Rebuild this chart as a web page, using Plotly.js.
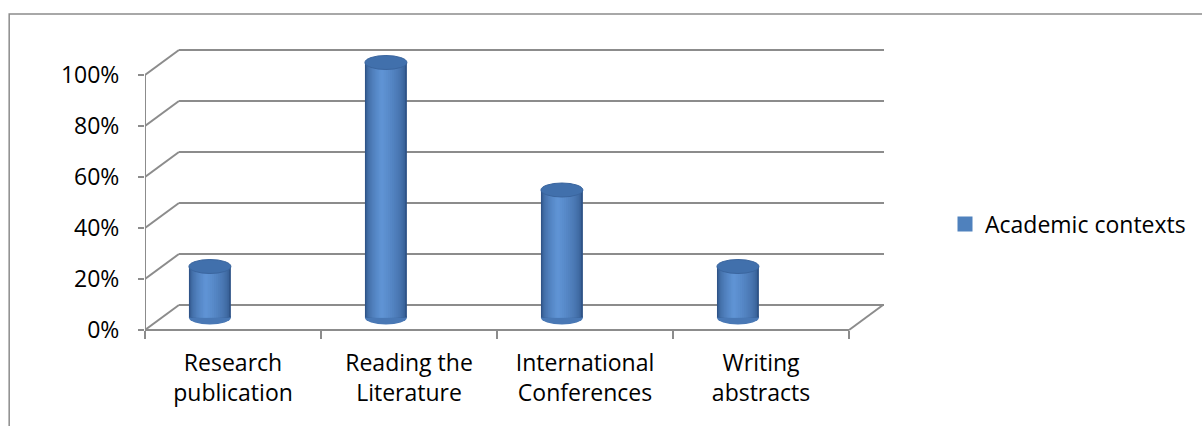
<!DOCTYPE html>
<html>
<head>
<meta charset="utf-8">
<script src="https://cdn.plot.ly/plotly-3.0.1.min.js"></script>
<style>
  html, body { margin: 0; padding: 0; background: #fff; }
  #chart { width: 1202px; height: 426px; }
</style>
</head>
<body>
<div id="chart"></div>
<script>
// ---- data ----
const categories = ["Research<br>publication", "Reading the<br>Literature", "International<br>Conferences", "Writing<br>abstracts"];
const seriesName = "Academic contexts";
const values = [0.20, 1.00, 0.50, 0.20];
const yTicks = [0, 0.2, 0.4, 0.6, 0.8, 1.0];

// ---- geometry (pixel layout of the 3D frame) ----
const PX_PER_CAT = 176.25;
const PX_PER_UNIT = 255;
const FL = (145 - 210) / PX_PER_CAT;          // front-left x (bar axis units)
const XR = FL + 740 / PX_PER_CAT;             // right edge of plot area
const BDX = 34 / PX_PER_CAT;                  // depth offset x
const BDY = 25 / PX_PER_UNIT;                 // depth offset y
const FR = FL + categories.length;            // front-right x
const EH = 7 / PX_PER_UNIT;                   // ellipse half height
const CYL_W = 42 / PX_PER_CAT;                // cylinder width

const xIdx = values.map((_, i) => i);

// cylinder shading layers (same data, nested widths / shades)
function mix(a, b, t) {
  const pa = [1, 3, 5].map(k => parseInt(a.substr(k, 2), 16));
  const pb = [1, 3, 5].map(k => parseInt(b.substr(k, 2), 16));
  return 'rgb(' + pa.map((v, i) => Math.round(v + (pb[i] - v) * t)).join(',') + ')';
}
const N = 12;
const DARK = '#2f5488', LIGHT = '#5f93d4';
const peak = -0.1 * CYL_W;                    // brightest line, left of centre
const traces = [];
for (let k = 0; k < N; k++) {
  const f = 1 - k / N;
  const left = peak - 0.4 * CYL_W * f;
  const right = peak + 0.6 * CYL_W * f;
  const t = Math.sqrt(k / (N - 1));
  traces.push({
    type: 'bar',
    x: xIdx,
    y: values,
    width: values.map(() => right - left),
    offset: values.map(() => left),
    marker: {color: mix(DARK, LIGHT, t), line: {width: 0}},
    name: seriesName,
    showlegend: false,
    hoverinfo: 'skip',
    xaxis: 'x', yaxis: 'y'
  });
}
// legend entry
traces.push({type: 'scatter', mode: 'markers', x: [null], y: [null], name: seriesName, showlegend: true,
  marker: {color: '#4f81bd', symbol: 'square', size: 15}, hoverinfo: 'skip', xaxis: 'x', yaxis: 'y'});

const shapes = [];
// outer chart border
shapes.push({type: 'rect', xref: 'paper', yref: 'paper',
  x0: (9 - 145) / 740, x1: 2, y0: -1, y1: (340 - 14) / 300,
  line: {color: '#8c8c8c', width: 1.5}, fillcolor: 'rgba(0,0,0,0)', layer: 'below'});

const gridStyle = {color: '#8c8c8c', width: 2};
yTicks.forEach(t => {
  shapes.push({type: 'line', xref: 'x', yref: 'y2', x0: FL + BDX, x1: XR, y0: t + BDY, y1: t + BDY, line: gridStyle, layer: 'below'});
  shapes.push({type: 'line', xref: 'x', yref: 'y2', x0: FL, x1: FL + BDX, y0: t, y1: t + BDY, line: gridStyle, layer: 'below'});
});
// front floor edge, right floor diagonal, front vertical axis
shapes.push({type: 'line', xref: 'x', yref: 'y2', x0: FL, x1: FR, y0: 0, y1: 0, line: gridStyle, layer: 'below'});
shapes.push({type: 'line', xref: 'x', yref: 'y2', x0: FR, x1: FR + BDX, y0: 0, y1: BDY, line: gridStyle, layer: 'below'});
shapes.push({type: 'line', xref: 'x', yref: 'y2', x0: FL, x1: FL, y0: 0, y1: yTicks[yTicks.length - 1], line: gridStyle, layer: 'below'});

// cylinder bottom and top ellipses
values.forEach((v, i) => {
  shapes.push({type: 'circle', xref: 'x', yref: 'y', x0: i - CYL_W / 2, x1: i + CYL_W / 2, y0: -EH, y1: EH,
    fillcolor: '#4978b5', line: {width: 0}, layer: 'below'});
  shapes.push({type: 'circle', xref: 'x', yref: 'y', x0: i - CYL_W / 2, x1: i + CYL_W / 2, y0: v - EH, y1: v + EH,
    fillcolor: '#4170ac', line: {width: 1, color: '#3a659e'}, layer: 'above'});
});

const FONT = {family: '"Open Sans", Lato, sans-serif', size: 23, color: '#000'};

const layout = {
  width: 1202, height: 426,
  margin: {l: 145, r: 317, t: 40, b: 86, pad: 0},
  paper_bgcolor: '#fff', plot_bgcolor: 'rgba(0,0,0,0)',
  font: FONT,
  barmode: 'overlay',
  showlegend: true,
  legend: {x: (945 - 145) / 740, xanchor: 'left', y: (340 - 224) / 300, yanchor: 'middle',
           font: FONT, bgcolor: 'rgba(0,0,0,0)', borderwidth: 0},
  xaxis: {range: [FL, XR], visible: false, fixedrange: true},
  yaxis: {range: [-22.5 / PX_PER_UNIT, 1 + 22.5 / PX_PER_UNIT], visible: false, fixedrange: true},
  xaxis2: {type: 'category', overlaying: 'x', anchor: 'free', position: 10 / 300,
           categoryorder: 'array', categoryarray: categories,
           range: [-0.5, -0.5 + 740 / PX_PER_CAT], tickson: 'boundaries',
           ticks: 'outside', ticklen: 8, tickwidth: 2, tickcolor: '#8c8c8c',
           showgrid: false, zeroline: false, showline: false, tickfont: FONT,
           ticklabelstandoff: 17},
  yaxis2: {overlaying: 'y', anchor: 'x', side: 'left',
           range: [-10 / PX_PER_UNIT, 1 + 35 / PX_PER_UNIT],
           tickvals: yTicks, tickformat: '.0%',
           ticks: 'outside', ticklen: 6, tickwidth: 2, tickcolor: '#8c8c8c',
           showgrid: false, zeroline: false, showline: false, tickfont: FONT,
           ticklabelstandoff: 14},
  shapes: shapes
};

// invisible trace on the front axes so they render
traces.push({type: 'scatter', x: categories, y: [null, null, null, null], xaxis: 'x2', yaxis: 'y2',
  showlegend: false, hoverinfo: 'skip', mode: 'markers'});

Plotly.newPlot('chart', traces, layout, {staticPlot: true, displayModeBar: false});
</script>
</body>
</html>
